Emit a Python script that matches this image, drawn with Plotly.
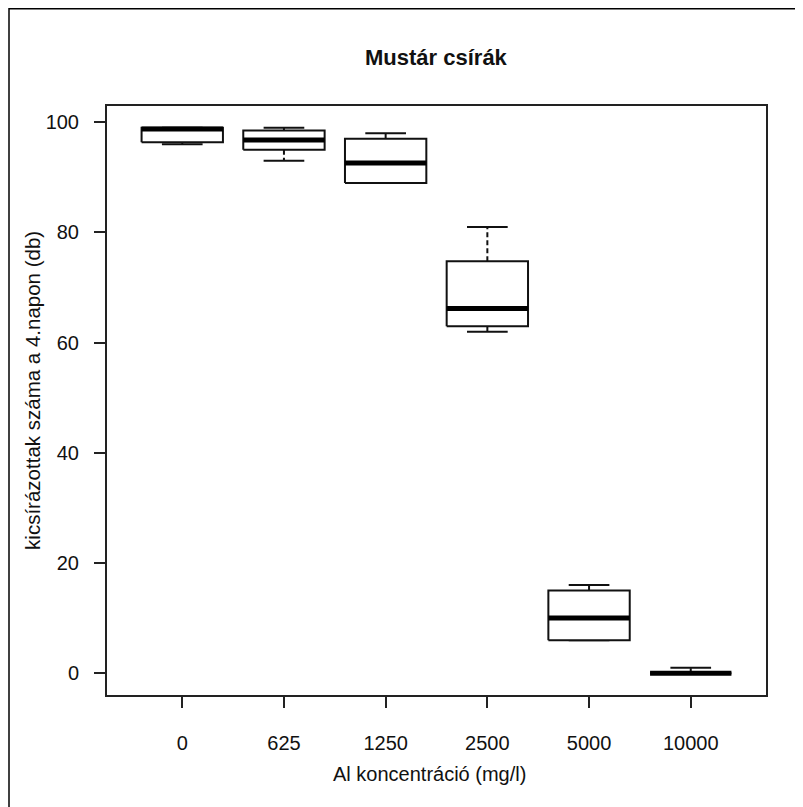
import plotly.graph_objects as go

# ---- data ----
categories = ["0", "625", "1250", "2500", "5000", "10000"]
q_min = [96, 93, 89, 62, 6, 0]
q1 = [96.4, 95, 89, 63, 6, 0]
median = [98.8, 96.8, 92.6, 66.2, 10, 0]
q3 = [99, 98.5, 97, 74.8, 15, 0]
q_max = [99, 99, 98, 81, 16, 1]

title_text = "Mustár csírák"
x_title = "Al koncentráció (mg/l)"
y_title = "kicsírázottak száma a 4.napon (db)"
y_ticks = [0, 20, 40, 60, 80, 100]

HALF = 0.4      # half box width (x units)
CAP = 0.2       # half cap width
positions = list(range(1, len(categories) + 1))

rect_x, rect_y = [], []
med_x, med_y = [], []
wh_x, wh_y = [], []
cap_x, cap_y = [], []
for p, lo, a, m, b, hi in zip(positions, q_min, q1, median, q3, q_max):
    rect_x += [p - HALF, p + HALF, p + HALF, p - HALF, p - HALF, None]
    rect_y += [a, a, b, b, a, None]
    med_x += [p - HALF, p + HALF, None]
    med_y += [m, m, None]
    wh_x += [p, p, None, p, p, None]
    wh_y += [b, hi, None, a, lo, None]
    cap_x += [p - CAP, p + CAP, None, p - CAP, p + CAP, None]
    cap_y += [hi, hi, None, lo, lo, None]

fig = go.Figure()
fig.add_trace(go.Scatter(x=wh_x, y=wh_y, mode="lines",
                         line=dict(color="#111", width=2, dash="5px,3px"),
                         hoverinfo="skip", showlegend=False))
fig.add_trace(go.Scatter(x=cap_x, y=cap_y, mode="lines",
                         line=dict(color="#111", width=2),
                         hoverinfo="skip", showlegend=False))
fig.add_trace(go.Scatter(x=rect_x, y=rect_y, mode="lines",
                         line=dict(color="#111", width=2),
                         fill="toself", fillcolor="white",
                         hoverinfo="skip", showlegend=False))
fig.add_trace(go.Scatter(x=med_x, y=med_y, mode="lines",
                         line=dict(color="#000", width=5),
                         hoverinfo="skip", showlegend=False))

W, H = 795, 799
ML, MR, MT, MB = 99, 37, 98, 112
PW, PH = W - ML - MR, H - MT - MB

FONT = "Liberation Sans, Arial, Helvetica, sans-serif"
fig.update_layout(
    width=W, height=H,
    margin=dict(l=ML, r=MR, t=MT, b=MB),
    paper_bgcolor="white", plot_bgcolor="white",
    font=dict(family=FONT, color="#111", size=20),
    showlegend=False,
    xaxis=dict(range=[0.26, 6.74], tickmode="array", tickvals=positions,
               ticktext=categories, ticks="outside", ticklen=11,
               tickwidth=2, tickcolor="#222", showgrid=False, zeroline=False,
               showline=True, linecolor="#222", linewidth=2, mirror=True,
               ticklabelstandoff=18, tickfont=dict(size=20)),
    yaxis=dict(range=[-3.96, 102.96], tickmode="array", tickvals=y_ticks,
               ticks="outside", ticklen=11, tickwidth=2, tickcolor="#222",
               showgrid=False, zeroline=False,
               showline=True, linecolor="#222", linewidth=2, mirror=True,
               ticklabelstandoff=11, tickfont=dict(size=20)),
    annotations=[
        dict(text="<b>" + title_text + "</b>", x=0.5, y=1.0815, xref="paper", yref="paper",
             showarrow=False, xanchor="center", yanchor="middle",
             font=dict(size=22, family=FONT, color="#111")),
        dict(text=x_title, x=0.49, y=-0.134, xref="paper", yref="paper",
             showarrow=False, xanchor="center", yanchor="middle",
             font=dict(size=20, family=FONT, color="#111")),
        dict(text=y_title, x=-0.1123, y=0.518, xref="paper", yref="paper",
             showarrow=False, xanchor="center", yanchor="middle", textangle=-90,
             font=dict(size=20.5, family=FONT, color="#111")),
    ],
    shapes=[
        dict(type="line", xref="paper", yref="paper",
             x0=(1 - ML) / PW, x1=(W - ML + 5) / PW,
             y0=1 + (MT - 0.75) / PH, y1=1 + (MT - 0.75) / PH,
             line=dict(color="black", width=1.5)),
        dict(type="line", xref="paper", yref="paper",
             x0=(1 - ML) / PW, x1=(1 - ML) / PW,
             y0=1 + MT / PH, y1=-(MB + 5) / PH,
             line=dict(color="black", width=1.5)),
    ],
)

fig.write_html("out.html")
